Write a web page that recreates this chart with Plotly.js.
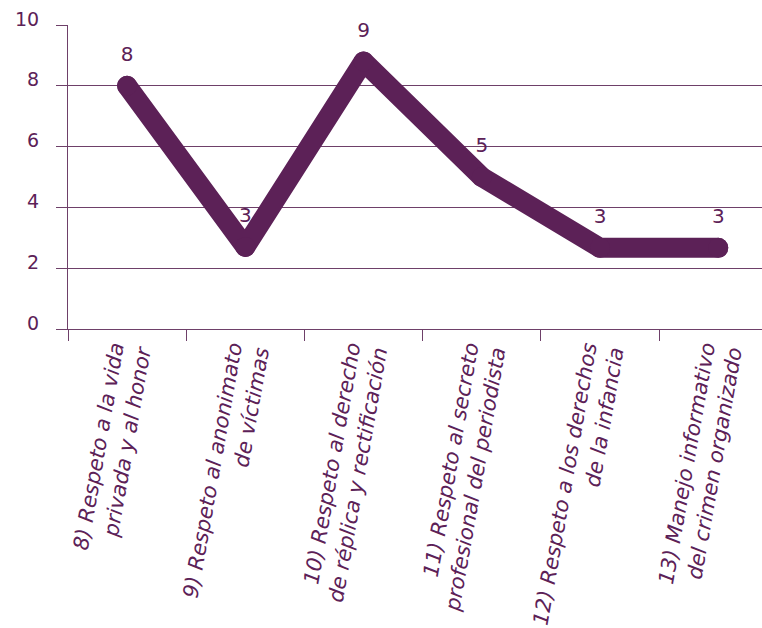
<!DOCTYPE html>
<html>
<head>
<meta charset="utf-8">
<script src="https://cdn.plot.ly/plotly-3.0.1.min.js"></script>
<style>html,body{margin:0;padding:0;background:#fff;}#chart{width:762px;height:628px;}</style>
</head>
<body>
<div id="chart"></div>
<script>
const categories = [
  "8) Respeto a la vida<br>privada y al honor",
  "9) Respeto al anonimato<br>de víctimas",
  "10) Respeto al derecho<br>de réplica y rectificación",
  "11) Respeto al secreto<br>profesional del periodista",
  "12) Respeto a los derechos<br>de la infancia",
  "13) Manejo informativo<br>del crimen organizado"
];
const values = [8.0, 2.7, 8.8, 5.0, 2.67, 2.67];
const valueLabels = ["8", "3", "9", "5", "3", "3"];
const yTicks = [0, 2, 4, 6, 8, 10];

const purple = "#5c2157";
const gridColor = "#6e4069";

const lineTrace = {
  x: categories,
  y: values,
  type: "scatter",
  mode: "lines+markers",
  line: {color: purple, width: 20, shape: "linear"},
  marker: {color: purple, size: 20},
  cliponaxis: false,
  hoverinfo: "skip"
};

const labelTrace = {
  x: categories,
  y: values,
  type: "scatter",
  mode: "markers+text",
  marker: {color: "rgba(0,0,0,0)", size: 30},
  text: valueLabels,
  textposition: "top center",
  textfont: {family: "DejaVu Sans", size: 20, color: purple},
  cliponaxis: false,
  hoverinfo: "skip"
};

const layout = {
  width: 762, height: 628,
  margin: {l: 68, r: 0, t: 25, b: 299},
  paper_bgcolor: "#ffffff",
  plot_bgcolor: "#ffffff",
  showlegend: false,
  font: {family: "DejaVu Sans", color: purple},
  xaxis: {
    type: "category",
    range: [-0.5, 5.37],
    tickson: "boundaries",
    ticks: "outside",
    ticklen: 11,
    tickcolor: gridColor,
    tickwidth: 1,
    showline: true,
    linecolor: gridColor,
    linewidth: 1,
    showgrid: false,
    zeroline: false,
    tickangle: -80,
    tickfont: {family: "DejaVu Sans", size: 21, color: purple, style: "italic"},
    fixedrange: true
  },
  yaxis: {
    range: [0, 10],
    tickvals: yTicks,
    ticktext: yTicks.map(String),
    ticks: "outside",
    ticklen: 11,
    tickcolor: gridColor,
    tickwidth: 1,
    showline: true,
    linecolor: gridColor,
    linewidth: 1,
    showgrid: true,
    gridcolor: gridColor,
    gridwidth: 1,
    zeroline: false,
    tickfont: {family: "DejaVu Sans", size: 19, color: purple},
    ticklabelshift: -6,
    ticklabelstandoff: 13,
    fixedrange: true
  }
};

Plotly.newPlot("chart", [lineTrace, labelTrace], layout, {displayModeBar: false, staticPlot: true}).then(function (gd) {
  gd.querySelectorAll(".scatterlayer path.js-line").forEach(function (p) {
    p.style.strokeLinejoin = "round";
    p.style.strokeLinecap = "round";
  });
});
</script>
</body>
</html>
